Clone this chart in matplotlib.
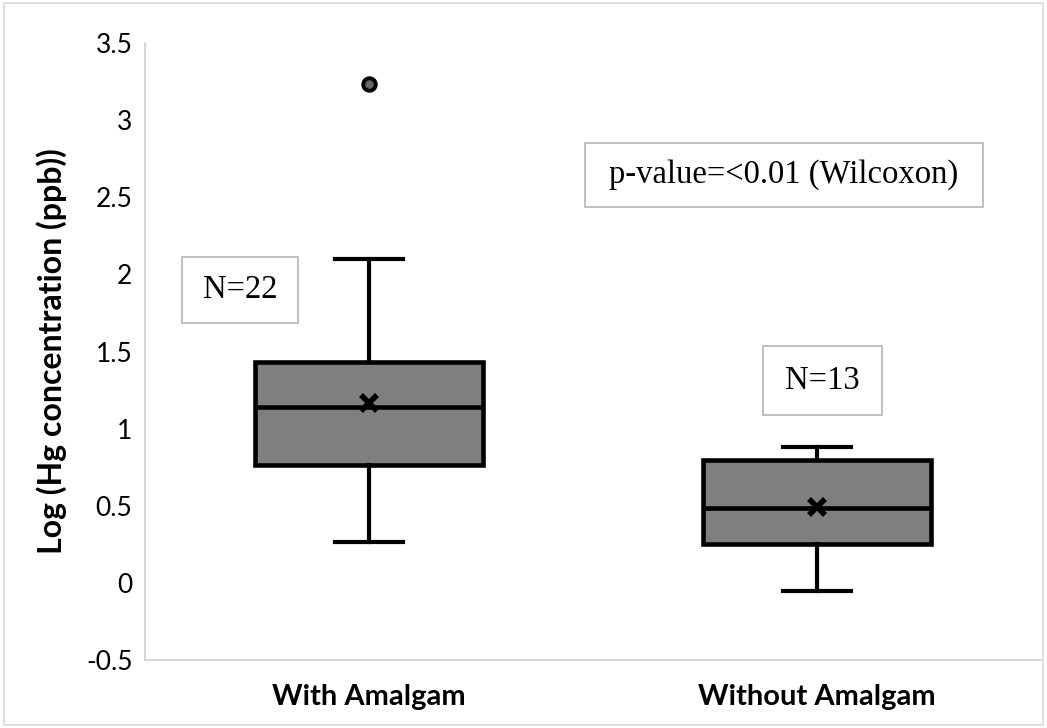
import matplotlib.pyplot as plt
from matplotlib.patches import Rectangle

# box plot summary per group
groups = ["With Amalgam", "Without Amalgam"]
q1 = [0.765, 0.253]
medians = [1.141, 0.486]
q3 = [1.433, 0.797]
whisker_lo = [0.266, -0.052]
whisker_hi = [2.10, 0.882]
means = [1.167, 0.493]
outliers = [[3.235], []]
n_labels = ["N=22", "N=13"]
p_text = "p-value=<0.01 (Wilcoxon)"

W, H = 1047, 728
fig = plt.figure(figsize=(W / 100, H / 100), dpi=100)
ax = fig.add_axes([145 / W, 1 - 660 / H, (1041 - 145) / W, (660 - 43) / H])

stats = []
for i in range(len(groups)):
    stats.append(dict(med=medians[i], q1=q1[i], q3=q3[i], whislo=whisker_lo[i],
                      whishi=whisker_hi[i], mean=means[i], fliers=outliers[i]))

ax.bxp(stats, positions=[1, 2], widths=0.51, showmeans=True, patch_artist=True,
       boxprops=dict(facecolor="#7f7f7f", edgecolor="black", linewidth=3.3),
       medianprops=dict(color="black", linewidth=3.3),
       whiskerprops=dict(color="black", linewidth=3.0),
       capprops=dict(color="black", linewidth=3.0),
       capwidths=0.15,
       meanprops=dict(marker="x", markeredgecolor="black", markeredgewidth=4, markersize=12),
       flierprops=dict(marker="o", markerfacecolor="#666666", markeredgecolor="black",
                       markeredgewidth=2.8, markersize=9))

ax.set_xlim(0.5, 2.5)
ax.set_ylim(-0.5, 3.5)
ax.set_yticks([-0.5, 0, 0.5, 1, 1.5, 2, 2.5, 3, 3.5])
ax.set_yticklabels(["-0.5", "0", "0.5", "1", "1.5", "2", "2.5", "3", "3.5"],
                   fontsize=19, family="Lato")
ax.set_xticks([1, 2])
ax.set_xticklabels(groups, fontsize=21, family="Lato", fontweight="bold")
ax.tick_params(length=0)
ax.tick_params(axis="y", pad=9)
ax.tick_params(axis="x", pad=17)
ax.set_ylabel("Log (Hg concentration (ppb))", fontsize=23, family="Lato",
              fontweight="bold", labelpad=14)

for s in ["top", "right"]:
    ax.spines[s].set_visible(False)
for s in ["left", "bottom"]:
    ax.spines[s].set_color("#d0d0d0")
    ax.spines[s].set_linewidth(1.2)


def note(text, x0, y0, x1, y1):
    # bordered text box placed in pixel coordinates of the figure
    fig.patches.append(Rectangle((x0 / W, 1 - y1 / H), (x1 - x0) / W, (y1 - y0) / H,
                                 transform=fig.transFigure, facecolor="white",
                                 edgecolor="#bfbfbf", linewidth=1.4, zorder=5))
    fig.text((x0 + x1) / 2 / W, 1 - (y0 + y1) / 2 / H, text, fontsize=23.5,
             family="Liberation Serif", ha="center", va="center", zorder=6)


note(n_labels[0], 182, 257, 298, 323)
note(n_labels[1], 763, 346, 882, 415)
note(p_text, 585, 143, 983, 207)

# outer chart border
fig.patches.append(Rectangle((0.004, 0.004), 0.992, 0.992, transform=fig.transFigure,
                             fill=False, edgecolor="#d9d9d9", linewidth=1.2))

fig.savefig("out.png", dpi=100)
